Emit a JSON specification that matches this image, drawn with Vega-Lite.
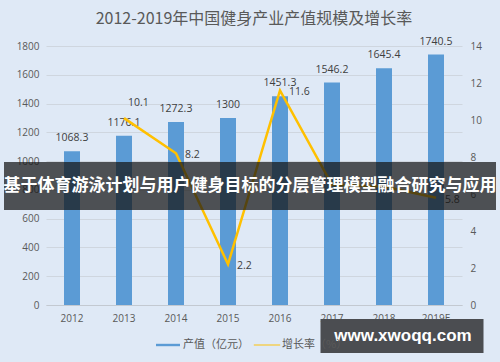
{
  "$schema": "https://vega.github.io/schema/vega-lite/v6.json",
  "autosize": "none",
  "width": 416,
  "height": 259,
  "padding": {"left": 46, "top": 46, "right": 38, "bottom": 57},
  "background": "#dfe9f6",
  "title": {
    "text": "2012-2019年中国健身产业产值规模及增长率",
    "font": "Noto Sans CJK SC",
    "fontSize": 16,
    "fontWeight": "normal",
    "color": "#595959",
    "offset": 10
  },
  "config": {
    "view": {"stroke": null},
    "axis": {"labelFont": "Open Sans", "labelFontSize": 10, "labelColor": "#595959", "ticks": false, "domain": false, "title": null},
    "text": {"font": "Open Sans"}
  },
  "data": {
    "values": [
      {"year": "2012", "value": 1068.3, "rate": null},
      {"year": "2013", "value": 1176.1, "rate": 10.1},
      {"year": "2014", "value": 1272.3, "rate": 8.2},
      {"year": "2015", "value": 1300, "rate": 2.2},
      {"year": "2016", "value": 1451.3, "rate": 11.6},
      {"year": "2017", "value": 1546.2, "rate": 6.5},
      {"year": "2018", "value": 1645.4, "rate": 6.4},
      {"year": "2019E", "value": 1740.5, "rate": 5.8}
    ]
  },
  "encoding": {
    "x": {
      "field": "year",
      "type": "nominal",
      "sort": null,
      "scale": {"paddingInner": 0, "paddingOuter": 0},
      "axis": {"labelAngle": 0, "domain": true, "domainColor": "#c3c9d1", "labelPadding": 8}
    }
  },
  "layer": [
    {
      "mark": {"type": "bar", "width": 16},
      "encoding": {
        "y": {
          "field": "value",
          "type": "quantitative",
          "scale": {"domain": [0, 1800]},
          "axis": {"values": [0, 200, 400, 600, 800, 1000, 1200, 1400, 1600, 1800], "format": "d", "grid": true, "gridColor": "#cfd6df", "labelPadding": 7}
        },
        "color": {
          "datum": "产值（亿元）",
          "type": "nominal",
          "scale": {"domain": ["产值（亿元）", "增长率（%）"], "range": ["#5b9bd5", "#ffc000"]},
          "legend": {
            "orient": "none",
            "legendX": 110,
            "legendY": 287,
            "title": null,
            "direction": "horizontal",
            "labelFont": "Noto Sans CJK SC",
            "labelFontSize": 11,
            "labelColor": "#595959",
            "labelOffset": 3,
            "symbolSize": 576,
            "columnPadding": 4,
            "encode": {
              "symbols": {
                "update": {
                  "shape": {"signal": "datum.value === '产值（亿元）' ? 'M-1,-0.1H1V0.1H-1Z' : 'M-1.1,-0.04H1.1V0.04H-1.1Z'"},
                  "fill": {"signal": "datum.value === '产值（亿元）' ? '#5b9bd5' : '#ffc000'"},
                  "strokeWidth": {"value": 0}
                }
              }
            }
          }
        }
      }
    },
    {
      "mark": {"type": "text", "dy": -8, "baseline": "bottom", "fontSize": 10.5, "color": "#404040"},
      "encoding": {
        "y": {"field": "value", "type": "quantitative", "scale": {"domain": [0, 1800]}, "axis": null},
        "text": {"field": "value", "type": "quantitative"}
      }
    },
    {
      "mark": {"type": "line", "strokeWidth": 2.5, "color": "#ffc000"},
      "transform": [{"filter": "datum.rate != null"}],
      "encoding": {
        "y": {
          "field": "rate",
          "type": "quantitative",
          "scale": {"domain": [0, 14]},
          "axis": {"orient": "right", "values": [0, 2, 4, 6, 8, 10, 12, 14], "grid": false, "labelPadding": 8}
        },
        "color": {"datum": "增长率（%）", "type": "nominal"}
      }
    },
    {
      "mark": {"type": "text", "dx": 4, "dy": -15, "align": "left", "fontSize": 10.5, "color": "#404040"},
      "transform": [{"filter": "datum.year === '2013'"}],
      "encoding": {
        "y": {"field": "rate", "type": "quantitative", "scale": {"domain": [0, 14]}, "axis": null},
        "text": {"field": "rate", "type": "quantitative", "format": ".1f"}
      }
    },
    {
      "mark": {"type": "text", "dx": 9, "dy": 2, "align": "left", "fontSize": 10.5, "color": "#404040"},
      "transform": [{"filter": "datum.rate != null && datum.year !== '2013' && datum.year !== '2017' && datum.year !== '2018'"}],
      "encoding": {
        "y": {"field": "rate", "type": "quantitative", "scale": {"domain": [0, 14]}, "axis": null},
        "text": {"field": "rate", "type": "quantitative", "format": ".1f"}
      }
    },
    {
      "data": {"values": [{"lo": 660, "hi": 994}]},
      "mark": {"type": "rect", "color": "#151515", "opacity": 0.72, "xOffset": -42, "x2Offset": 34},
      "encoding": {
        "x": {"value": 0},
        "x2": {"value": "width"},
        "y": {"field": "lo", "type": "quantitative", "scale": {"domain": [0, 1800]}, "axis": null},
        "y2": {"field": "hi"}
      }
    },
    {
      "data": {"values": [{"label": "基于体育游泳计划与用户健身目标的分层管理模型融合研究与应用", "pos": 827}]},
      "mark": {"type": "text", "font": "Noto Sans CJK SC", "fontSize": 17, "fontWeight": "bold", "color": "#ffffff", "dx": -4, "baseline": "middle"},
      "encoding": {
        "x": null,
        "y": {"field": "pos", "type": "quantitative", "scale": {"domain": [0, 1800]}, "axis": null},
        "text": {"field": "label"}
      }
    },
    {
      "data": {"values": [{"year": "2018", "lo": -97, "hi": -334}]},
      "mark": {"type": "bar", "width": 163, "xOffset": 18, "color": "#4b4d51"},
      "encoding": {
        "y": {"field": "lo", "type": "quantitative", "scale": {"domain": [0, 1800]}, "axis": null},
        "y2": {"field": "hi"}
      }
    },
    {
      "data": {"values": [{"year": "2018", "pos": -215, "label": "www.xwoqq.com"}]},
      "mark": {"type": "text", "font": "Liberation Sans", "fontSize": 17, "fontWeight": "bold", "color": "#ffffff", "dx": 19, "baseline": "middle"},
      "encoding": {
        "y": {"field": "pos", "type": "quantitative", "scale": {"domain": [0, 1800]}, "axis": null},
        "text": {"field": "label"}
      }
    }
  ],
  "resolve": {"scale": {"y": "independent"}}
}
